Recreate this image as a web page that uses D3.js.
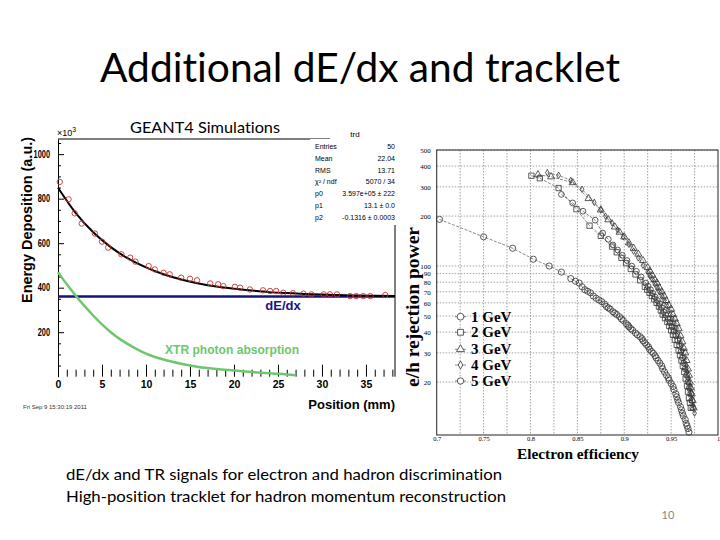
<!DOCTYPE html>
<html>
<head>
<meta charset="utf-8">
<script src="https://cdn.jsdelivr.net/npm/d3@7"></script>
<style>
  body { margin: 0; background: #fff; }
  svg { display: block; }
  text { font-variant-ligatures: none; }
</style>
</head>
<body>
<svg id="slide" width="720" height="540"></svg>
<script>
// ---- left plot (GEANT4) data ----
var simPoints = [[0.2,875],[1.2,797],[1.9,734],[2.7,688],[4.2,643],[5.0,607],[5.7,580],[7.2,550],[8.2,535],
  [8.8,517],[10.3,497],[11,482],[12,467],[12.7,460],[14,445],[15,440],[15.8,433],[17.3,419],[18.2,415],
  [18.8,407],[20.1,404],[20.7,400],[21.8,392],[23.3,388],[24.1,385],[24.8,385],[25.6,377],[26.7,375],
  [27.9,373],[28.8,370],[30.2,370],[30.9,370],[31.7,370],[33.2,362],[33.9,362],[34.7,362],[35.5,362],[37.2,367]]
var fitCurve = [[0,849],[2,736],[4,649],[6,582],[8,530],[10,491],[12,460],[14,437],[16,419],[18,405],
  [20,395],[22,387],[24,380],[26,376],[28,372],[30,369],[32,367],[34,365],[36,364],[38.3,363]]
var xtrCurve = [[0,470],[1,415],[2,365],[3,318],[4,275],[5,235],[6,200],[7,170],[8,145],[9,123],[10,104],
  [12,77],[14,58],[16,44],[18,35],[20,28],[22,21],[24,15],[26,10],[27,6]]
var dedxLevel = 360
var leftXTicks = [0,5,10,15,20,25,30,35]
var leftYTicks = [200,400,600,800,1000]
var statRows = [["Entries","50"],["Mean","22.04"],["RMS","13.71"],["\u03c7\u00b2 / ndf","5070 / 34"],
  ["p0","3.597e+05 \u00b1 222"],["p1","13.1 \u00b1 0.0"],["p2","-0.1316 \u00b1 0.0003"]]

// ---- right plot (rejection power) data ----
var gev1 = [[0.703,191],[0.75,150],[0.781,128],[0.803,110],[0.82,100],[0.833,92],[0.843,84],[0.848,81],[0.852,79],
  [0.855,75],[0.858,72],[0.861,70.5],[0.864,69],[0.867,66],[0.87,64],[0.873,62.5],[0.876,61],[0.879,59],[0.881,57],
  [0.883,56],[0.885,55],[0.888,53],[0.89,52],[0.892,51],[0.895,49.5],[0.897,48],[0.899,47],[0.902,45],[0.904,44],
  [0.905,43],[0.907,42],[0.909,41],[0.912,39.5],[0.914,38.5],[0.917,37.5],[0.919,36.5],[0.92,35.5],[0.922,34.5],
  [0.924,33.4],[0.926,32.5],[0.927,31.5],[0.929,30.6],[0.931,29.8],[0.933,28.8],[0.934,28],[0.936,27],[0.938,26],
  [0.94,25],[0.941,24],[0.943,23],[0.945,22],[0.947,21.2],[0.948,20.5],[0.95,19.6],[0.952,18.8],[0.953,18],
  [0.955,17],[0.956,16.3],[0.957,15.6],[0.958,15],[0.96,14.2],[0.961,13.6],[0.962,13],[0.963,12.5],[0.965,11.9],
  [0.966,11.3],[0.967,10.9],[0.968,10.5],[0.969,10]]
var gev2 = [[0.801,350],[0.81,338],[0.83,295],[0.849,220],[0.863,175],[0.875,152],[0.887,131],[0.892,121],
  [0.897,112],[0.902,104],[0.907,96],[0.912,89],[0.917,82],[0.922,75],[0.9245,72],[0.927,69],[0.9295,66],
  [0.932,63],[0.9345,60],[0.937,57],[0.939,54],[0.941,51],[0.9435,48.5],[0.946,46],[0.948,43.5],[0.95,41],
  [0.952,38.5],[0.954,36],[0.956,33.5],[0.958,31],[0.9595,29],[0.961,27],[0.9625,25],[0.964,23],[0.9655,21],
  [0.967,19],[0.968,17.5],[0.969,16],[0.97,15],[0.971,14]]
var gev3 = [[0.808,355],[0.822,345],[0.845,318],[0.862,255],[0.875,218],[0.883,190],[0.89,172],[0.895,160],
  [0.9,150],[0.905,138],[0.91,128],[0.915,118],[0.92,108],[0.925,98],[0.9275,93],[0.93,88],[0.9325,83],
  [0.935,79],[0.9375,74],[0.94,70],[0.9425,66],[0.945,62],[0.9475,58],[0.95,55],[0.952,51],[0.954,48],
  [0.956,45],[0.958,42],[0.96,38],[0.962,35],[0.9635,32],[0.965,30],[0.9665,27],[0.968,24],[0.969,22],
  [0.97,20],[0.971,18.5],[0.972,17],[0.973,15.5],[0.974,14]]
var gev4 = [[0.818,365],[0.83,352],[0.843,328],[0.855,290],[0.868,242],[0.875,218],[0.88,200],[0.887,182],
  [0.893,165],[0.899,150],[0.905,135],[0.91,123],[0.915,112],[0.92,101],[0.925,92],[0.9275,87],[0.93,83],
  [0.9325,78],[0.935,74],[0.9375,70],[0.94,66],[0.9425,62],[0.945,58],[0.947,54],[0.949,51],[0.951,48],
  [0.953,45],[0.955,42],[0.957,39],[0.9585,36.5],[0.96,34],[0.962,31],[0.964,28],[0.9655,25.5],[0.967,23],
  [0.9685,21],[0.97,19],[0.971,17.5],[0.972,16],[0.9735,14.5],[0.975,13]]
var gev5 = [[0.833,270],[0.845,240],[0.856,214],[0.869,189],[0.877,158],[0.883,145],[0.888,134],[0.893,125],
  [0.898,116],[0.903,108],[0.908,100],[0.913,93],[0.918,86],[0.923,79],[0.9255,75.5],[0.928,72],[0.9305,68.5],
  [0.933,65],[0.9355,62],[0.938,59],[0.94,56],[0.942,53],[0.9445,50.5],[0.947,48],[0.949,45.5],[0.951,43],
  [0.953,40.5],[0.955,38],[0.957,35.5],[0.959,33],[0.9605,30.5],[0.962,28],[0.9635,26],[0.965,24],[0.9665,22],
  [0.968,20],[0.9695,18.5],[0.971,17],[0.972,15.5],[0.973,14]]
var seriesNames = ["1 GeV","2 GeV","3 GeV","4 GeV","5 GeV"]
var rightXTicks = [0.7,0.75,0.8,0.85,0.9,0.95,1]
var rightXGrid = [0.725,0.75,0.775,0.8,0.825,0.85,0.875,0.9,0.925,0.95,0.975]
var rightYTicks = [20,30,40,50,60,70,80,90,100,200,300,400,500]

var svg = d3.select("#slide")
var calibri = "Lato, 'Open Sans', sans-serif"
var helv = "'Liberation Sans', Arial, sans-serif"
var serif = "'Liberation Serif', 'DejaVu Serif', serif"

// slide title
svg.append("text")
   .text("Additional dE/dx and tracklet")
   .attr("x", 100).attr("y", 82)
   .attr("textLength", 520).attr("lengthAdjust", "spacingAndGlyphs")
   .style("font-family", calibri).style("font-size", "40px").attr("fill", "#000")

// ================= left plot =================
var lx = d3.scaleLinear().domain([0, 38.3]).range([58, 395])
var ly = d3.scaleLinear().domain([0, 1068]).range([376.7, 139])
var left = svg.append("g")

left.append("text").text("GEANT4 Simulations")
    .attr("x", 130).attr("y", 133)
    .attr("textLength", 150).attr("lengthAdjust", "spacingAndGlyphs")
    .style("font-family", calibri).style("font-size", "15px")

// frame lines
left.append("line").attr("x1", lx(0)).attr("x2", 330).attr("y1", ly(1068)).attr("y2", ly(1068))
    .attr("stroke", "#000").attr("stroke-width", 1)
left.append("line").attr("x1", lx(38.3)).attr("x2", lx(38.3)).attr("y1", 220).attr("y2", ly(0))
    .attr("stroke", "#000").attr("stroke-width", 1)

// y axis
var yAxisGen = d3.axisLeft(ly).tickValues(leftYTicks).tickFormat(d3.format("d"))
    .tickSizeInner(-6).tickSizeOuter(0).tickPadding(8)
var yAxis = left.append("g").attr("transform", `translate(${lx(0)},0)`).call(yAxisGen)
yAxis.selectAll("text").style("font-family", helv).style("font-size", "10px").style("font-weight", "bold")
    .attr("textLength", d => String(d).length * 4.1).attr("lengthAdjust", "spacingAndGlyphs")
yAxis.select(".domain").attr("stroke-width", 1)
var yMinor = d3.range(50, 1068, 50).filter(v => v % 200 != 0)
left.append("g").attr("transform", `translate(${lx(0)},0)`)
    .call(d3.axisLeft(ly).tickValues(yMinor).tickSizeInner(-3).tickSizeOuter(0).tickFormat(""))
    .select(".domain").remove()

// x axis (ticks pointing up, no baseline)
var xAxisGen = d3.axisBottom(lx).tickValues(leftXTicks).tickSizeInner(-12).tickSizeOuter(0).tickPadding(4)
var xAxis = left.append("g").attr("transform", `translate(0,${ly(0)})`).call(xAxisGen)
xAxis.select(".domain").remove()
xAxis.selectAll("text").style("font-family", helv).style("font-size", "10.5px").style("font-weight", "bold")
var xMinor = d3.range(1, 39, 1).filter(v => v % 5 != 0)
var xm = left.append("g").attr("transform", `translate(0,${ly(0)})`)
    .call(d3.axisBottom(lx).tickValues(xMinor).tickSizeInner(-7).tickSizeOuter(0).tickFormat(""))
xm.select(".domain").remove()

left.append("text").attr("x", 57).attr("y", 136)
    .style("font-family", helv).style("font-size", "9px")
    .html("\u00d710<tspan dy='-4' font-size='7px'>3</tspan>")

// y label
left.append("text").text("Energy Deposition (a.u.)")
    .attr("text-anchor", "middle")
    .attr("transform", "translate(32, 220) rotate(-90)")
    .attr("textLength", 166).attr("lengthAdjust", "spacingAndGlyphs")
    .style("font-family", helv).style("font-size", "14px").style("font-weight", "bold")

left.append("text").text("Position (mm)")
    .attr("text-anchor", "end").attr("x", 395).attr("y", 409)
    .style("font-family", helv).style("font-size", "13px").style("font-weight", "bold")

left.append("text").text("Fri Sep  9 15:30:19 2011")
    .attr("x", 23).attr("y", 409)
    .style("font-family", helv).style("font-size", "6px").attr("fill", "#333")

// curves
var lineL = d3.line().x(d => lx(d[0])).y(d => ly(d[1])).curve(d3.curveMonotoneX)
left.append("line").attr("x1", lx(0)).attr("x2", lx(38.3)).attr("y1", ly(dedxLevel)).attr("y2", ly(dedxLevel))
    .attr("stroke", "#14147a").attr("stroke-width", 2.5)
left.append("path").datum(xtrCurve).attr("d", lineL)
    .attr("fill", "none").attr("stroke", "#6cc86c").attr("stroke-width", 2.5)
left.append("path").datum(fitCurve).attr("d", lineL)
    .attr("fill", "none").attr("stroke", "#000").attr("stroke-width", 2)
left.append("g").selectAll("circle").data(simPoints).enter().append("circle")
    .attr("cx", d => lx(d[0])).attr("cy", d => ly(d[1])).attr("r", 2.7)
    .attr("fill", "none").attr("stroke", "#c8302c").attr("stroke-width", 0.9)

left.append("text").text("dE/dx").attr("text-anchor", "middle")
    .attr("x", 283).attr("y", 310)
    .style("font-family", helv).style("font-size", "13px").style("font-weight", "bold").attr("fill", "#14148c")
left.append("text").text("XTR photon absorption")
    .attr("x", 165).attr("y", 354)
    .attr("textLength", 134).attr("lengthAdjust", "spacingAndGlyphs")
    .style("font-family", helv).style("font-size", "12px").style("font-weight", "bold").attr("fill", "#6cc86c")

// stats box
var stats = left.append("g")
stats.append("rect").attr("x", 310).attr("y", 139).attr("width", 92).attr("height", 86).attr("fill", "#fff")
stats.append("text").text("trd").attr("x", 355).attr("y", 137).attr("text-anchor", "middle")
    .style("font-family", helv).style("font-size", "8px")
stats.selectAll(".lab").data(statRows).enter().append("text")
    .attr("x", 315).attr("y", (d, i) => 149 + i * 11.8).text(d => d[0])
    .style("font-family", helv).style("font-size", "7px")
stats.selectAll(".val").data(statRows).enter().append("text")
    .attr("x", 395).attr("y", (d, i) => 149 + i * 11.8).attr("text-anchor", "end").text(d => d[1])
    .style("font-family", helv).style("font-size", "7px")

// ================= right plot =================
var rx = d3.scaleLinear().domain([0.7, 1]).range([436.7, 718])
var ry = d3.scaleLog().domain([9.6, 500]).range([435, 150])
var right = svg.append("g")

right.append("g").selectAll("line").data(rightXGrid).enter().append("line")
    .attr("x1", d => rx(d)).attr("x2", d => rx(d)).attr("y1", ry(500)).attr("y2", ry(9.6))
    .attr("stroke", "#8a8a8a").attr("stroke-width", 0.8).attr("stroke-dasharray", "1.5,1.5")
right.append("g").selectAll("line").data(rightYTicks).enter().append("line")
    .attr("x1", rx(0.7)).attr("x2", rx(1)).attr("y1", d => ry(d)).attr("y2", d => ry(d))
    .attr("stroke", "#8a8a8a").attr("stroke-width", 0.8).attr("stroke-dasharray", "1.5,1.5")

right.append("rect").attr("x", rx(0.7)).attr("y", ry(500))
    .attr("width", rx(1) - rx(0.7)).attr("height", ry(9.6) - ry(500))
    .attr("fill", "none").attr("stroke", "#222").attr("stroke-width", 1)

var ryAxis = right.append("g").attr("transform", `translate(${rx(0.7)},0)`)
    .call(d3.axisLeft(ry).tickValues(rightYTicks).tickFormat(d3.format("d")).tickSize(0).tickPadding(6))
ryAxis.select(".domain").remove()
ryAxis.selectAll("text").style("font-family", serif).style("font-size", "7px")
var rxAxis = right.append("g").attr("transform", `translate(0,${ry(9.6)})`)
    .call(d3.axisBottom(rx).tickValues(rightXTicks).tickFormat(d => String(d)).tickSize(0).tickPadding(1))
rxAxis.select(".domain").remove()
rxAxis.selectAll("text").style("font-family", serif).style("font-size", "6.5px")

right.append("text").text("e/h rejection power")
    .attr("text-anchor", "middle")
    .attr("transform", "translate(419, 307) rotate(-90)")
    .attr("textLength", 160).attr("lengthAdjust", "spacingAndGlyphs")
    .style("font-family", serif).style("font-size", "19px").style("font-weight", "bold")
right.append("text").text("Electron efficiency")
    .attr("x", 578).attr("y", 459).attr("text-anchor", "middle")
    .attr("textLength", 122).attr("lengthAdjust", "spacingAndGlyphs")
    .style("font-family", serif).style("font-size", "15px").style("font-weight", "bold")

var allSeries = [gev1, gev2, gev3, gev4, gev5]
var symbols = [d3.symbolCircle, d3.symbolSquare, d3.symbolTriangle, d3.symbolDiamond, d3.symbolCircle]
var symSizes = [30, 28, 22, 12, 26]
var lineR = d3.line().x(d => rx(d[0])).y(d => ry(d[1]))

allSeries.forEach(function(s, i) {
  right.append("path").datum(s).attr("d", lineR)
       .attr("fill", "none").attr("stroke", "#555").attr("stroke-width", 0.7).attr("stroke-dasharray", "3,1.5")
  right.append("g").selectAll("path").data(s).enter().append("path")
       .attr("d", d3.symbol().type(symbols[i]).size(symSizes[i]))
       .attr("transform", d => `translate(${rx(d[0])},${ry(d[1])})`)
       .attr("fill", "none").attr("stroke", "#333").attr("stroke-width", 0.8)
})

// legend
var legY = [316.7, 332.3, 349.3, 365, 381]
seriesNames.forEach(function(name, i) {
  right.append("line").attr("x1", 455).attr("x2", 466).attr("y1", legY[i]).attr("y2", legY[i])
       .attr("stroke", "#555").attr("stroke-width", 0.7)
  right.append("path").attr("d", d3.symbol().type(symbols[i]).size(symSizes[i] + 6))
       .attr("transform", `translate(460.5,${legY[i]})`)
       .attr("fill", "#fff").attr("stroke", "#333").attr("stroke-width", 0.8)
  right.append("text").text(name).attr("x", 471).attr("y", legY[i] + 5)
       .style("font-family", serif).style("font-size", "15px").style("font-weight", "bold")
})

// bottom text
svg.append("text").text("dE/dx and TR signals for electron and hadron discrimination")
   .attr("x", 66).attr("y", 480)
   .attr("textLength", 436).attr("lengthAdjust", "spacingAndGlyphs")
   .style("font-family", calibri).style("font-size", "16px")
svg.append("text").text("High-position tracklet for hadron momentum reconstruction")
   .attr("x", 66).attr("y", 502)
   .attr("textLength", 440).attr("lengthAdjust", "spacingAndGlyphs")
   .style("font-family", calibri).style("font-size", "16px")
svg.append("text").text("10").attr("x", 668).attr("y", 519).attr("text-anchor", "middle")
   .style("font-family", calibri).style("font-size", "11px").attr("fill", "#888")
</script>
</body>
</html>
